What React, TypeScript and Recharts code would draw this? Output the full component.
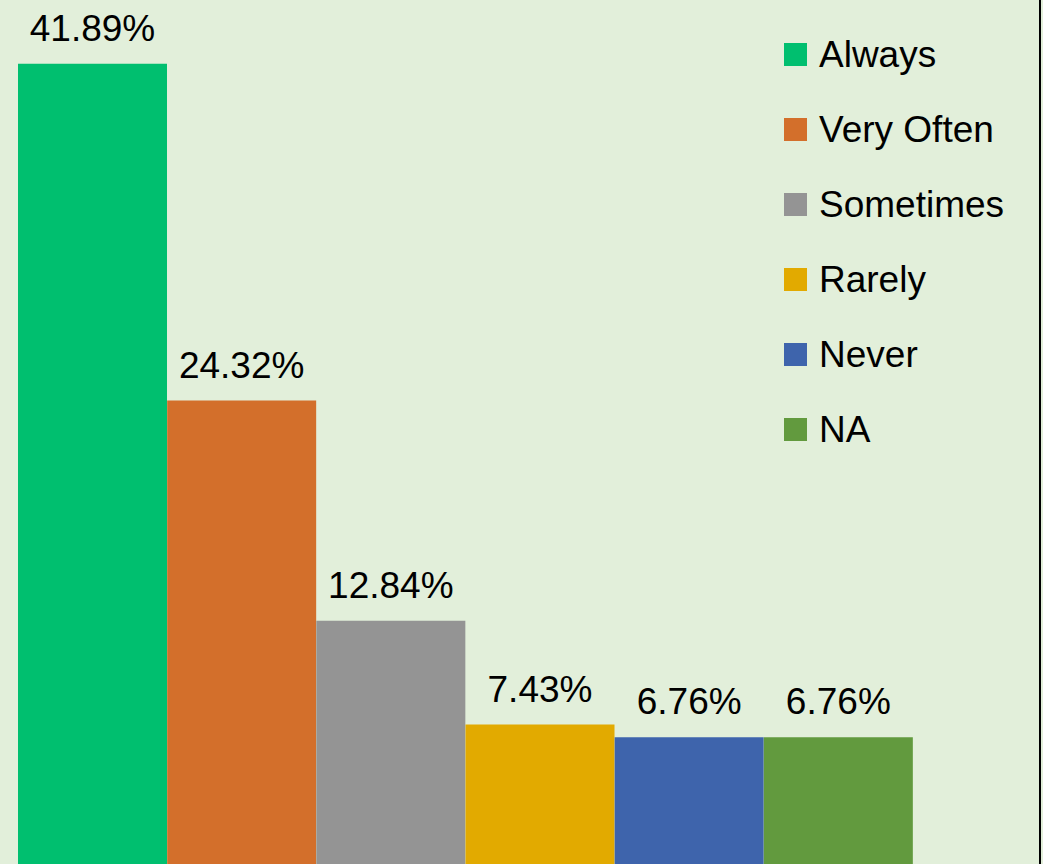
import React from 'react';
import { BarChart, Bar, XAxis, YAxis, Cell, LabelList, Legend } from 'recharts';

const categories = ['Always', 'Very Often', 'Sometimes', 'Rarely', 'Never', 'NA'];
const shares = [41.89, 24.32, 12.84, 7.43, 6.76, 6.76];
const colors = ['#00BF6F', '#D36F2B', '#949494', '#E2AA00', '#3E64AC', '#629A3E'];

const data = categories.map((name, i) => ({ name, value: shares[i] }));

const FONT = '"Liberation Sans", Arial, sans-serif';

const renderLabel = (props: any) => {
    const { x, y, width, value } = props;
    return (
        <text
            x={x + width / 2}
            y={y - 23}
            textAnchor="middle"
            fontFamily={FONT}
            fontSize={37}
            fill="#000"
        >
            {value.toFixed(2)}%
        </text>
    );
};

const renderLegend = () => (
    <div style={{ fontFamily: FONT, fontSize: 37, color: '#000' }}>
        {categories.map((name, i) => (
            <div key={name} style={{ display: 'flex', alignItems: 'center', height: 75 }}>
                <span style={{ width: 23, height: 23, background: colors[i], marginRight: 12, flex: 'none' }} />
                <span style={{ whiteSpace: 'nowrap' }}>{name}</span>
            </div>
        ))}
    </div>
);

export default function App() {
    return (
        <div
            style={{
                position: 'fixed',
                top: 0,
                left: 0,
                width: 1043,
                height: 864,
                overflow: 'hidden',
                background: '#E2EFDA',
            }}
        >
            <BarChart
                width={1043}
                height={867}
                data={data}
                margin={{ top: 4, right: 130, bottom: 0, left: 18 }}
                barCategoryGap={0}
                barGap={0}
            >
                <XAxis dataKey="name" hide />
                <YAxis hide domain={[0, 45]} />
                <Legend
                    layout="vertical"
                    align="center"
                    verticalAlign="middle"
                    content={renderLegend}
                    wrapperStyle={{ left: 784, top: 17, width: 250 }}
                />
                <Bar dataKey="value" isAnimationActive={false}>
                    {data.map((d, i) => (
                        <Cell key={d.name} fill={colors[i]} />
                    ))}
                    <LabelList dataKey="value" content={renderLabel} />
                </Bar>
            </BarChart>
            <div style={{ position: 'absolute', left: 1039, top: 0, width: 2, height: 864, background: '#000' }} />
        </div>
    );
}
